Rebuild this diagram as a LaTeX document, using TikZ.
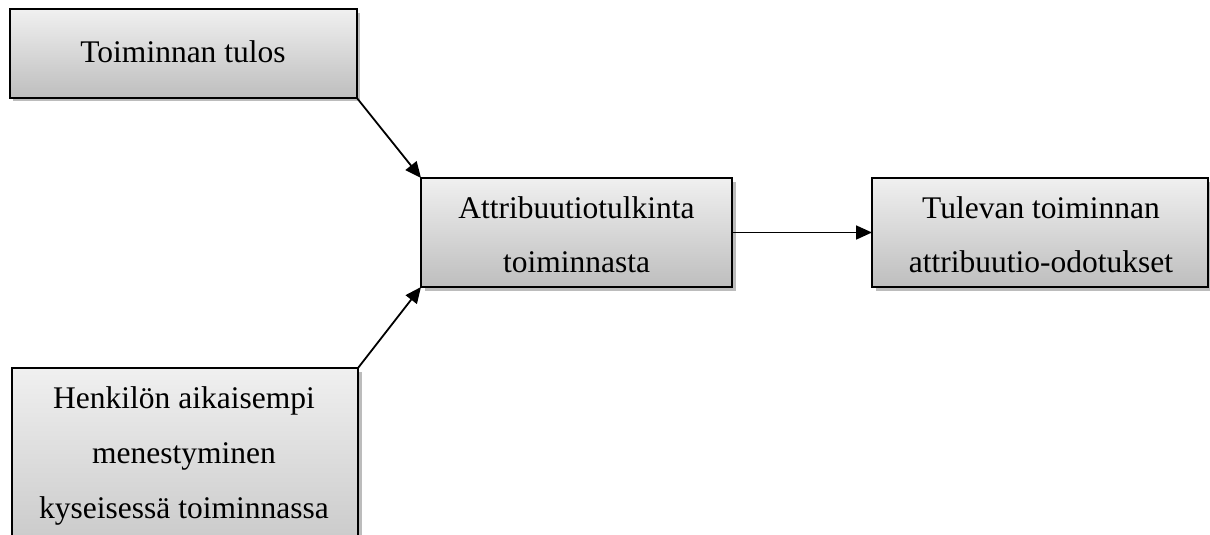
\documentclass[tikz,border=0pt]{standalone}
\usepackage{fontspec}
\setmainfont{Liberation Serif}
\usetikzlibrary{arrows.meta,shadows}
\definecolor{boxtop}{RGB}{240,240,240}
\definecolor{boxbot}{RGB}{190,190,190}
\definecolor{shad}{RGB}{165,165,165}
\begin{document}
\begin{tikzpicture}[x=1pt,y=-1pt,
  box/.style={rectangle, draw=black, line width=2pt, top color=boxtop, bottom color=boxbot,
    drop shadow={shadow xshift=3.5pt, shadow yshift=-3.5pt, fill=shad, opacity=0.75},
    inner sep=0pt, outer sep=0pt},
  txt/.style={font=\fontsize{31.5}{54}\selectfont, anchor=base, inner sep=0pt},
  arr/.style={line width=1.8pt, -{Triangle[length=16pt,width=14pt]}}]
\useasboundingbox (0,0) rectangle (1210,535);
\begin{scope}
\clip (0,0) rectangle (1210,535);
\node[box, minimum width=347pt, minimum height=88pt] (tulos) at (183,53.5) {};
\node[box, minimum width=311pt, minimum height=109pt] (attr) at (576.5,232.5) {};
\node[box, minimum width=336pt, minimum height=109pt] (tul) at (1040,232.5) {};
\node[box, minimum width=346pt, minimum height=232pt] (henk) at (185,484) {};

\node[txt] (tulosA) at (183,63) {Toiminnan tulos};
\node[txt] (attrA) at (576.5,218) {Attribuutiotulkinta};
\node[txt] (attrB) at (576.5,272) {toiminnasta};
\node[txt] (tulA) at (1041,218) {Tulevan toiminnan};
\node[txt] (tulB) at (1041,272) {attribuutio-odotukset};
\node[txt] (henkA) at (184,408) {Henkilön aikaisempi};
\node[txt] (henkB) at (184,463) {menestyminen};
\node[txt] (henkC) at (184,518) {kyseisessä toiminnassa};

\draw[arr] (tulos.south east) -- (attr.north west);
\draw[arr] (henk.north east) -- (attr.south west);
\draw[arr] (attr.east) -- (tul.west);
\end{scope}
\end{tikzpicture}
\end{document}
